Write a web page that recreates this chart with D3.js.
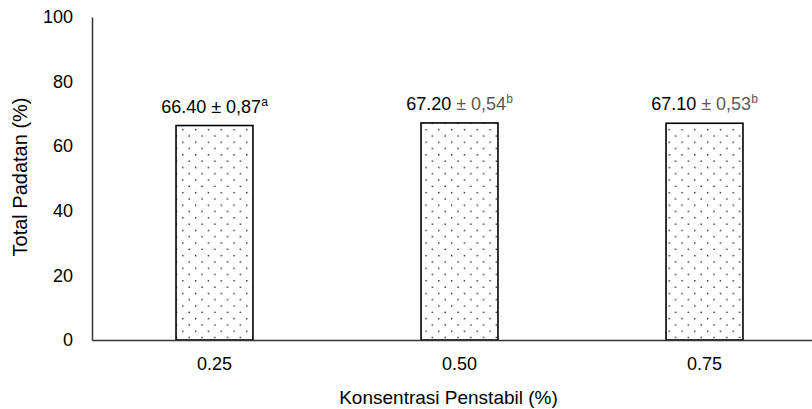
<!DOCTYPE html>
<html>
<head>
<meta charset="utf-8">
<script src="https://cdn.jsdelivr.net/npm/d3@7/dist/d3.min.js"></script>
<style>
  body { margin: 0; background: #fff; }
  text { font-family: "Liberation Sans", Arial, sans-serif; }
</style>
</head>
<body>
<div id="container"></div>
<script>
const width = 812;
const height = 409;

const categories = ["0.25", "0.50", "0.75"];
const values = [66.40, 67.20, 67.10];
const errors = ["0,87", "0,54", "0,53"];
const letters = ["a", "b", "b"];
const yTicks = [0, 20, 40, 60, 80, 100];

const margin = {top: 17, right: -15, bottom: 69, left: 92};

const svg = d3.select("#container")
              .append("svg")
              .attr("width", width)
              .attr("height", height);

const defs = svg.append("defs");
const pat = defs.append("pattern")
                .attr("id", "dots")
                .attr("patternUnits", "userSpaceOnUse")
                .attr("width", 12.8)
                .attr("height", 12.6);
pat.append("rect").attr("width", 12.8).attr("height", 12.6).attr("fill", "#fff");
pat.append("rect").attr("x", 3).attr("y", 3).attr("width", 1.3).attr("height", 1.3).attr("fill", "#000");
pat.append("rect").attr("x", 9.4).attr("y", 9.3).attr("width", 1.3).attr("height", 1.3).attr("fill", "#000");

const x = d3.scaleBand()
            .domain(categories)
            .range([margin.left, width - margin.right])
            .paddingInner(0.686)
            .paddingOuter(0.343);
const y = d3.scaleLinear()
            .domain([0, 100])
            .range([height - margin.bottom, margin.top]);

// y axis
const yAxis = svg.append("g")
                 .attr("transform", "translate(" + margin.left + ",0)")
                 .call(d3.axisLeft(y).tickValues(yTicks).tickSize(0).tickPadding(19));
yAxis.select(".domain").attr("stroke", "#333").attr("stroke-width", 1.5);
yAxis.selectAll("text").attr("font-size", 18).attr("fill", "#000")
     .attr("font-family", "'Liberation Sans', Arial, sans-serif");

// bars
svg.selectAll("rect.bar")
   .data(values)
   .enter()
   .append("rect")
   .attr("class", "bar")
   .attr("x", (d, i) => x(categories[i]))
   .attr("y", d => y(d))
   .attr("width", x.bandwidth())
   .attr("height", d => y(0) - y(d))
   .attr("fill", "url(#dots)")
   .attr("stroke", "#000")
   .attr("stroke-width", 1.6);

// x axis
const xAxis = svg.append("g")
                 .attr("transform", "translate(0," + y(0) + ")")
                 .call(d3.axisBottom(x).tickSize(0).tickPadding(17));
xAxis.select(".domain").attr("stroke", "#333").attr("stroke-width", 1.5);
xAxis.selectAll("text").attr("font-size", 18).attr("fill", "#000")
     .attr("font-family", "'Liberation Sans', Arial, sans-serif");

// value labels
const labels = svg.selectAll("text.value")
                  .data(values)
                  .enter()
                  .append("text")
                  .attr("class", "value")
                  .attr("x", (d, i) => x(categories[i]) + x.bandwidth() / 2)
                  .attr("y", d => y(d) - 13)
                  .attr("text-anchor", "middle")
                  .attr("font-size", 18);
labels.append("tspan")
      .attr("fill", "#000")
      .text(d => d.toFixed(2));
labels.append("tspan")
      .attr("fill", (d, i) => i === 0 ? "#000" : "#595959")
      .text((d, i) => " ± " + errors[i]);
labels.append("tspan")
      .attr("fill", (d, i) => i === 0 ? "#000" : "#595959")
      .attr("font-size", 12)
      .attr("dy", -7)
      .text((d, i) => letters[i]);

// axis titles
svg.append("text")
   .attr("transform", "translate(27,177) rotate(-90)")
   .attr("text-anchor", "middle")
   .attr("font-size", 20)
   .text("Total Padatan (%)");
svg.append("text")
   .attr("x", x("0.50") + x.bandwidth() / 2 - 11)
   .attr("y", 404)
   .attr("text-anchor", "middle")
   .attr("font-size", 19)
   .text("Konsentrasi Penstabil (%)");
</script>
</body>
</html>
